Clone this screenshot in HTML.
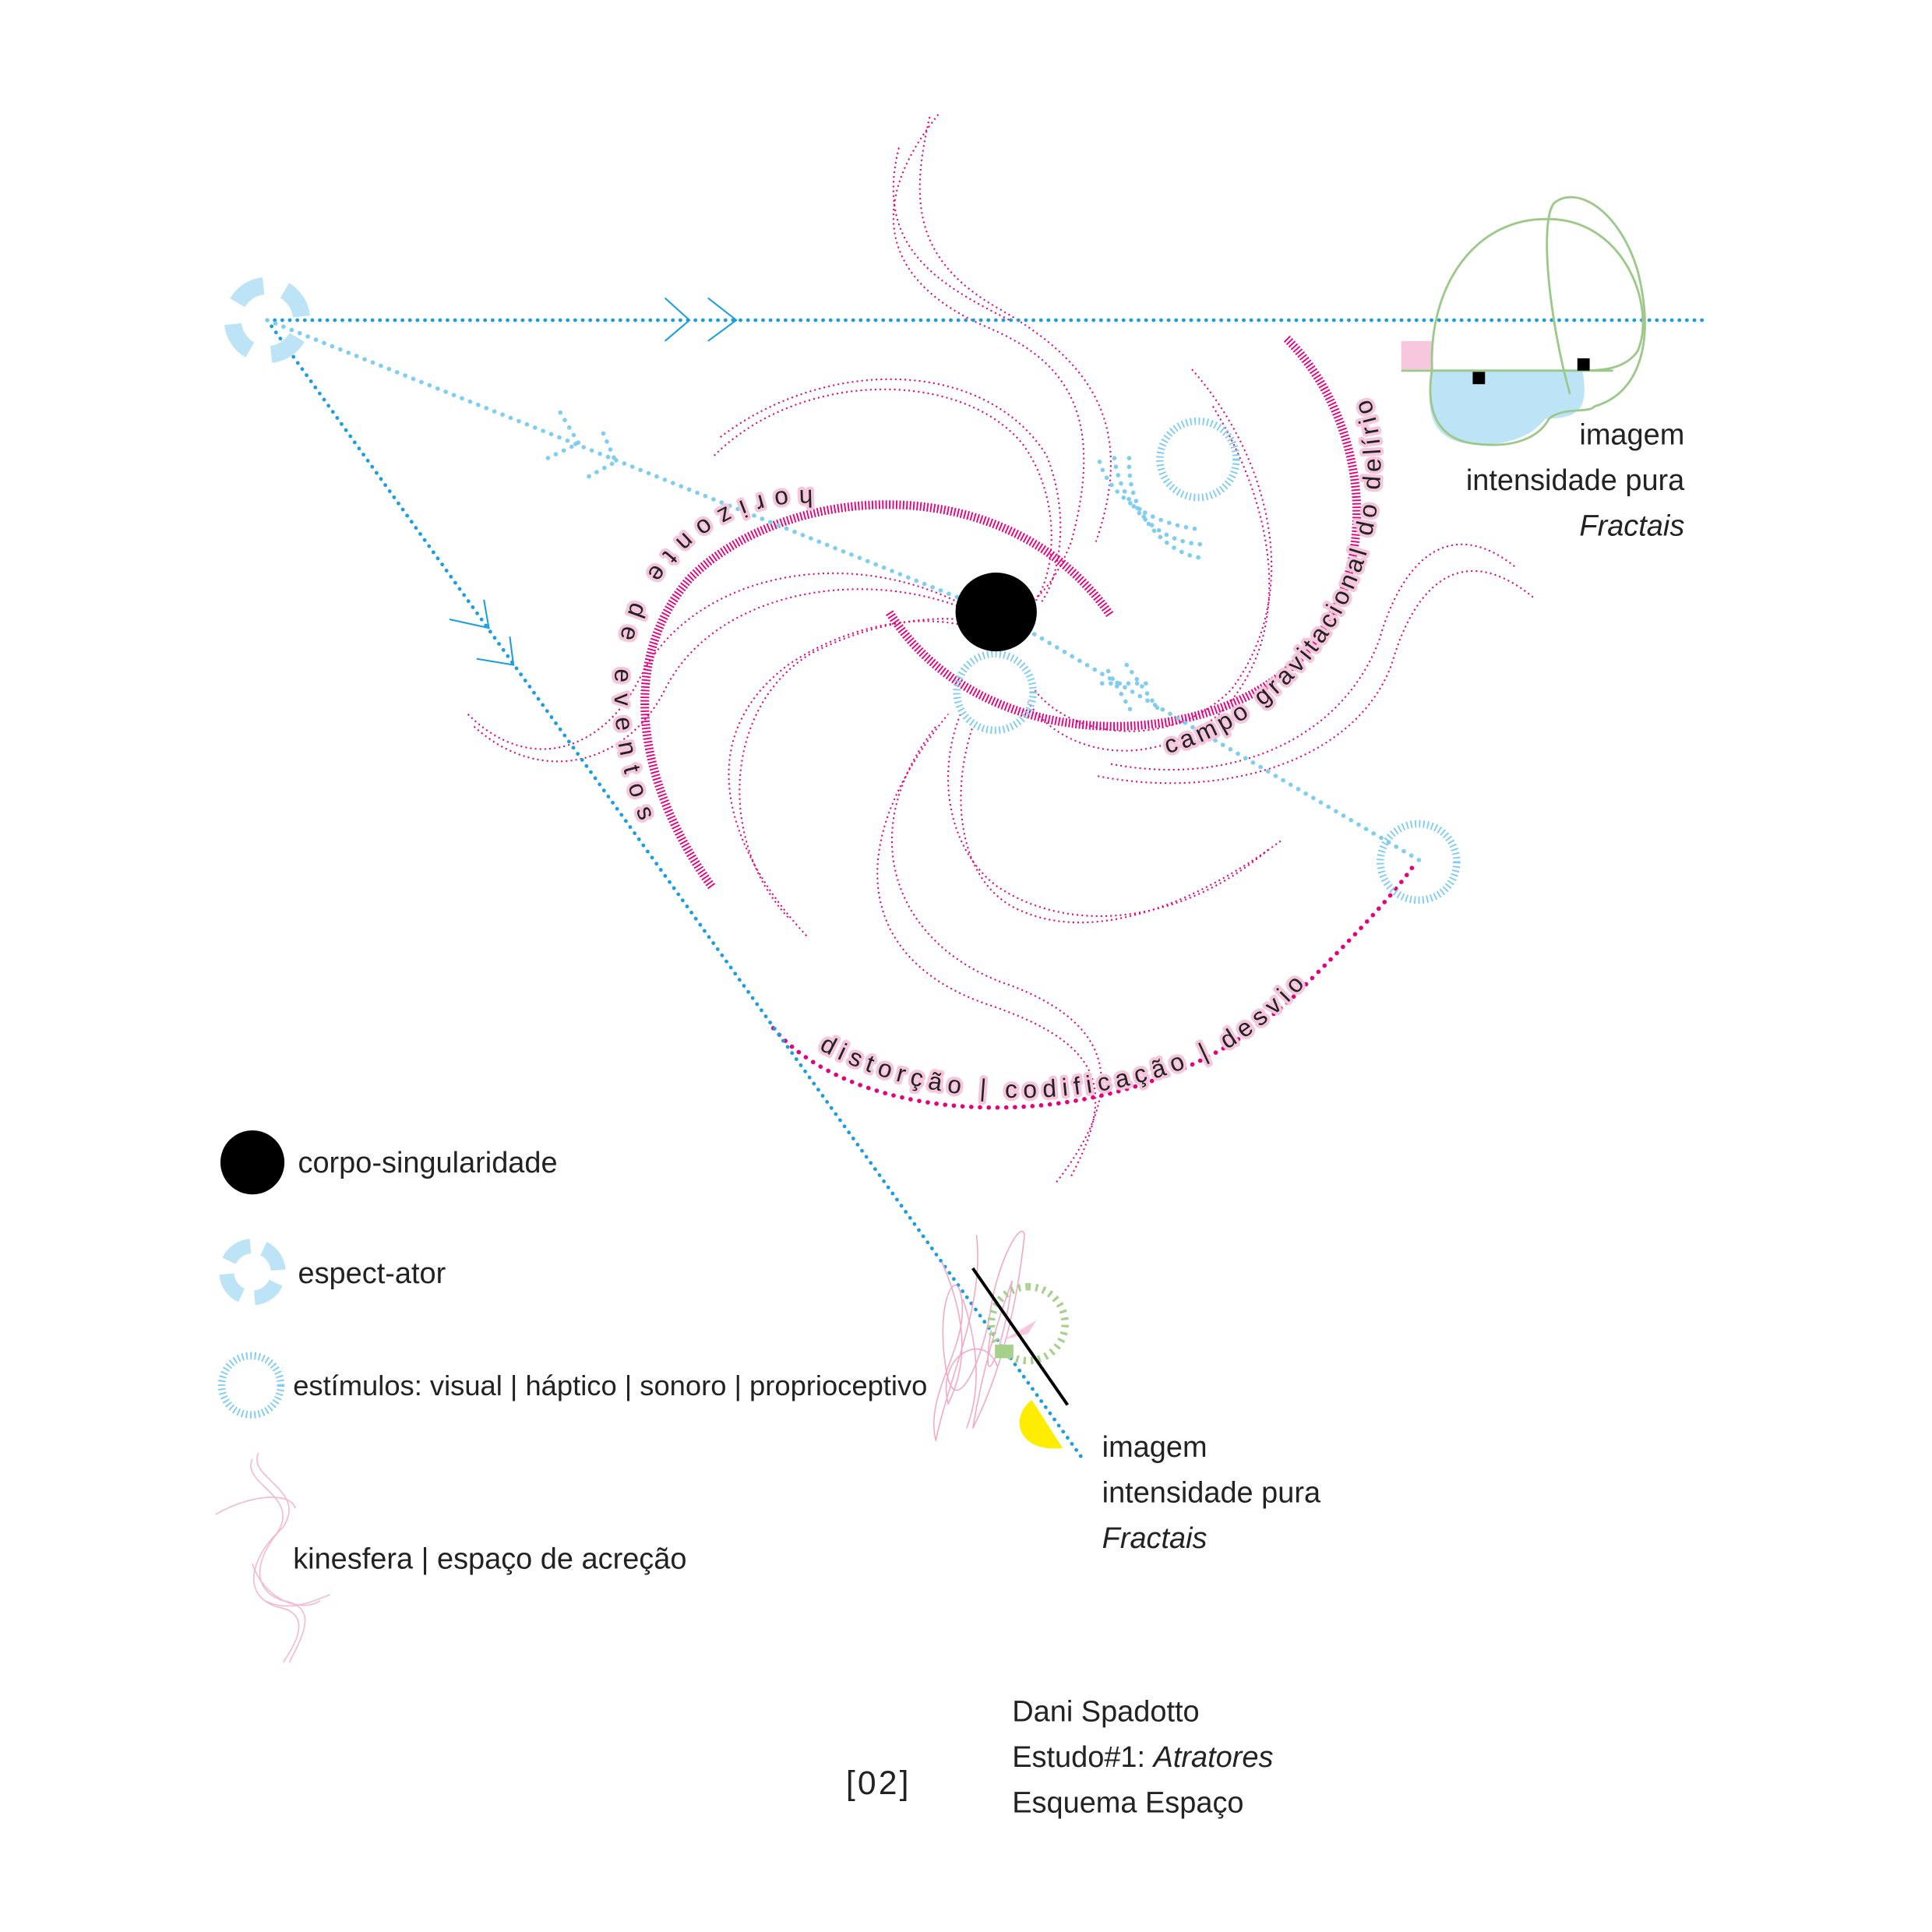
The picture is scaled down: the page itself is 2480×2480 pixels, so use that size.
<!DOCTYPE html>
<html><head><meta charset="utf-8"><style>
html,body{margin:0;padding:0;background:#fff}
svg{display:block}
text{font-family:"Liberation Sans",sans-serif;fill:#222}
.sp{fill:none;stroke:#e6007e;stroke-width:1.3;stroke-dasharray:1.3 2.6}
</style></head><body>
<svg width="2480" height="2480" viewBox="0 0 1569 1569" xmlns="http://www.w3.org/2000/svg">
<defs>
<path id="hz" d="M660,398 C580,395 510,450 500,540 C495,600 510,650 535,700"/>
<path id="cg" d="M948,612 C1030,590 1095,520 1115,430 C1128,370 1120,330 1100,300"/>
<path id="ds" d="M665,852 C760,905 900,905 1000,850 C1040,825 1075,790 1095,745"/>
</defs>
<g class="sp">
<path d="M762,93 C700,170 720,230 800,265 C860,290 900,330 870,440 C850,490 830,495 810,497"/>
<path d="M755,95 C740,160 740,210 810,250 C880,290 925,340 890,440"/>
<path d="M580,370 C650,300 780,300 830,360 C860,400 860,460 840,490"/>
<path d="M585,355 C670,290 800,290 850,370 C870,420 860,470 845,490"/>
<path d="M968,300 C1030,370 1060,480 1000,560 C950,610 870,600 840,560"/>
<path d="M985,330 C1040,420 1050,520 990,580 C930,630 860,610 835,570"/>
<path d="M1230,460 C1180,420 1140,450 1120,520 C1090,600 1000,640 900,620"/>
<path d="M1245,485 C1190,440 1150,470 1130,540 C1100,620 990,650 890,630"/>
<path d="M1040,683 C990,720 900,770 830,740 C780,720 770,650 790,590"/>
<path d="M1030,690 C960,750 870,760 810,720 C770,690 760,630 780,580"/>
<path d="M858,960 C920,880 900,830 820,800 C730,770 690,680 760,590"/>
<path d="M870,955 C910,880 890,845 800,815 C700,780 680,690 770,580"/>
<path d="M655,760 C590,690 560,600 640,540 C700,500 760,500 790,510"/>
<path d="M640,745 C580,680 590,570 660,530 C720,500 770,500 795,505"/>
<path d="M380,580 C430,630 490,610 520,550 C560,470 680,440 780,490"/>
<path d="M385,590 C440,640 510,620 540,560 C580,480 700,460 785,495"/>
<path d="M730,120 C710,200 760,230 820,260"/>
</g>
<path d="M578,720 C520,640 500,540 560,470 C640,390 820,380 902,500" fill="none" stroke="#e6007e" stroke-width="7" stroke-dasharray="1.2 1.6"/>
<path d="M1045,275 C1110,340 1125,460 1060,530 C990,610 800,620 722,497" fill="none" stroke="#e6007e" stroke-width="7" stroke-dasharray="1.2 1.6"/>
<path d="M628,835 C700,920 920,930 1050,810 C1090,770 1130,730 1150,700" fill="none" stroke="#e6007e" stroke-width="3.5" stroke-linecap="round" stroke-dasharray="0.1 7"/>
<path d="M217,260 L1385,260" stroke="#1a9ee0" stroke-width="3" stroke-linecap="round" stroke-dasharray="0.1 6" fill="none"/>
<path d="M217,260 L878,1183" stroke="#1a9ee0" stroke-width="3" stroke-linecap="round" stroke-dasharray="0.1 6" fill="none"/>
<path d="M217,260 L790,490 M840,515 L1155,700" stroke="#7fcdf0" stroke-width="3.5" stroke-linecap="round" stroke-dasharray="0.1 7" fill="none"/>
<g fill="none" stroke="#1a9ee0" stroke-width="1.3">
<path d="M540,242 L560,260 L540,277 M575,242 L598,260 L575,277"/>
<path d="M365,503 L397,510 L393,487 M387,535 L417,540 L414,517"/>
</g>
<g fill="none" stroke="#7fcdf0" stroke-width="3.5" stroke-linecap="round" stroke-dasharray="0.1 7">
<path d="M455,335 L470,360 L445,372 M490,352 L500,375 L478,387"/>
<path d="M893,375 C900,400 930,425 975,430 M905,372 C910,410 940,440 975,442 M917,372 C915,420 950,450 975,453"/>
<path d="M900,545 L920,580 M915,540 L940,575 M895,555 L935,555"/>
</g>
<g fill="none" stroke="#7fcdf0" stroke-width="6" stroke-dasharray="1.2 2.2">
<circle cx="973" cy="373" r="31"/>
<circle cx="808" cy="562" r="31"/>
<circle cx="1152" cy="700" r="31"/>
<circle cx="204" cy="1125" r="24"/>
</g>
<ellipse cx="809" cy="497" rx="33" ry="32" fill="#000"/>
<circle cx="217" cy="260" r="28" fill="none" stroke="#bde3f7" stroke-width="14" stroke-dasharray="26 18" transform="rotate(30 217 260)"/>
<circle cx="205" cy="1033" r="21" fill="none" stroke="#bde3f7" stroke-width="12" stroke-dasharray="22 11" transform="rotate(25 205 1033)"/>
<g font-size="20" paint-order="stroke" stroke="#f6c6dc" stroke-width="5" stroke-linejoin="round">
<text letter-spacing="9.5"><textPath href="#hz">horizonte de eventos</textPath></text>
<text letter-spacing="3.5"><textPath href="#cg">campo gravitacional do delírio</textPath></text>
<text letter-spacing="5"><textPath href="#ds">distorção | codificação | desvio</textPath></text>
</g>
<path d="M1163,300 L1285,300 C1290,330 1285,340 1255,340 C1240,360 1210,363 1190,360 C1160,355 1158,330 1163,300Z" fill="#bde3f7"/>
<rect x="1138" y="277" width="25" height="23" fill="#f7c8dd"/>
<g fill="none" stroke="#9cc98a" stroke-width="1.8">
<path d="M1138,301 L1310,301"/>
<path d="M1163,300 C1160,230 1200,175 1260,178 C1320,180 1345,250 1330,285 C1320,300 1300,301 1285,301"/>
<path d="M1163,300 C1158,330 1165,355 1195,360 C1230,365 1250,355 1258,340 C1270,330 1290,336 1295,330 C1330,320 1345,280 1330,220 C1315,170 1280,150 1262,165 C1250,180 1258,260 1275,320"/>
</g>
<rect x="1196" y="302" width="10" height="10" fill="#000"/>
<rect x="1281" y="291" width="10" height="10" fill="#000"/>
<g fill="none" stroke="#f4a8c8" stroke-width="1">
<path d="M793,1003 C800,1060 770,1120 760,1170 C750,1130 790,1090 780,1050 C775,1030 760,1060 768,1110 C775,1160 800,1100 805,1060 C812,1020 830,990 832,1003 C825,1070 810,1120 790,1160 C800,1100 815,1060 822,1040 C815,1100 795,1140 805,1080"/>
<path d="M765,1025 C780,1060 790,1100 770,1140 C760,1100 800,1080 810,1110 M782,1055 C790,1080 800,1120 785,1160"/>
</g>
<circle cx="835" cy="1075" r="30" fill="none" stroke="#a8d08d" stroke-width="6" stroke-dasharray="2 4" transform="rotate(-90 835 1075)"/>
<path d="M815,1088 L842,1072 L835,1083Z" fill="#f7c8dd"/>
<rect x="808" y="1092" width="15" height="11" fill="#a8d08d"/>
<path d="M790,1030 L867,1141" stroke="#000" stroke-width="2.5"/>
<path d="M838,1137 C820,1150 825,1180 863,1176 Z" fill="#ffed00"/>
<g fill="none" stroke="#f4b8d0" stroke-width="1">
<path d="M210,1180 C200,1200 250,1210 230,1240 C210,1260 200,1290 230,1300 C260,1305 245,1330 235,1350"/>
<path d="M205,1185 C195,1205 245,1215 225,1245 C205,1265 195,1295 225,1305 C255,1310 240,1335 230,1350"/>
<path d="M175,1230 C200,1215 235,1210 240,1225 M215,1300 C235,1310 255,1300 268,1295 M205,1270 C215,1300 245,1310 260,1300"/>
</g>
<circle cx="205" cy="944" r="26" fill="#000"/>
<g font-size="24">
<text x="242" y="952">corpo-singularidade</text>
<text x="242" y="1042">espect-ator</text>
<text x="238" y="1133" font-size="23">estímulos: visual | háptico | sonoro | proprioceptivo</text>
<text x="238" y="1274">kinesfera | espaço de acreção</text>
<text x="1368" y="361" text-anchor="end">imagem</text>
<text x="1368" y="398" text-anchor="end">intensidade pura</text>
<text x="1368" y="435" text-anchor="end" font-style="italic">Fractais</text>
<text x="895" y="1183">imagem</text>
<text x="895" y="1220">intensidade pura</text>
<text x="895" y="1257" font-style="italic">Fractais</text>
<text x="822" y="1398">Dani Spadotto</text>
<text x="822" y="1435">Estudo#1: <tspan font-style="italic">Atratores</tspan></text>
<text x="822" y="1472">Esquema Espaço</text>
<text x="687" y="1457" font-size="27" letter-spacing="2">[02]</text>
</g>
</svg>
</body></html>
